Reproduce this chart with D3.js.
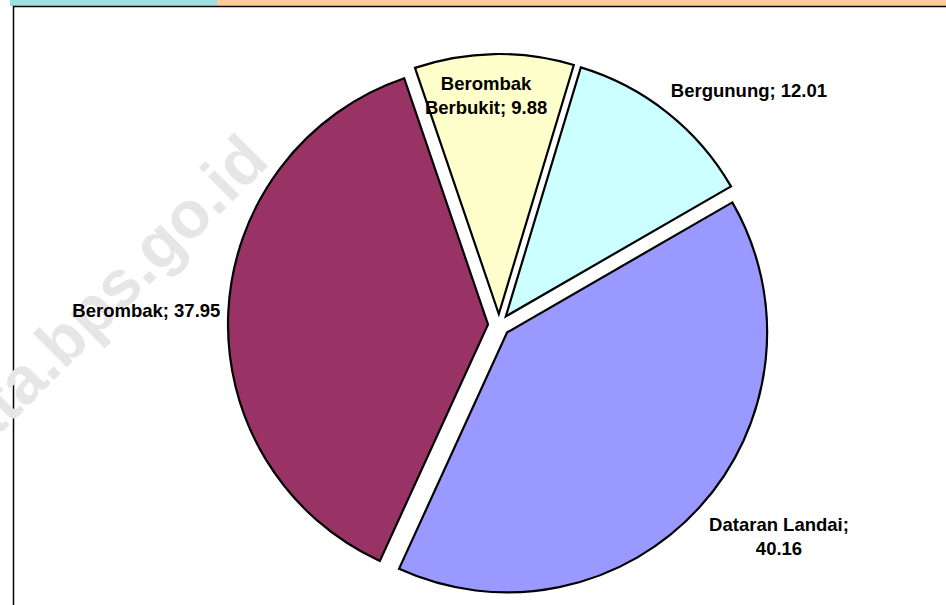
<!DOCTYPE html>
<html>
<head>
<meta charset="utf-8">
<script src="https://cdn.jsdelivr.net/npm/d3@7"></script>
<style>
    html, body { margin: 0; padding: 0; background: #fff; }
    #chart { width: 946px; height: 605px; overflow: hidden; }
    text { font-family: "Liberation Sans", Arial, sans-serif; }
</style>
</head>
<body>
<div id="chart"></div>
<script>
// slice data, clockwise from the first slice angle
const categories = ["Dataran Landai", "Berombak", "Berombak Berbukit", "Bergunung"];
const values = [40.16, 37.95, 9.88, 12.01];
const colors = ["#9999FF", "#993366", "#FFFFCC", "#CCFFFF"];

// label placement: angle shift from the slice middle (deg), distance from centre, wrap width
const labelShift = [-5.2, -0.5, -2.2, 8.4];
const labelRadius = [351, 353, 230, 343];
const labelWrap = [150, 200, 130, 200];

const width = 946, height = 605;
const cx = 499, cy = 325;
const radius = 260;
const explode = 11;
const firstAngle = 60; // degrees, clockwise from 12 o'clock
const fontSize = 18.5, lineHeight = 24;

const rad = (deg) => deg * Math.PI / 180;

const svg = d3.select("#chart")
    .append("svg")
    .attr("width", width)
    .attr("height", height);

// header strip
svg.append("rect").attr("x", 10).attr("y", 0).attr("width", 207).attr("height", 6).attr("fill", "#A0DFE0");
svg.append("rect").attr("x", 217).attr("y", 0).attr("width", width - 217).attr("height", 6).attr("fill", "#FFCC99");

// chart frame (runs off the right and bottom)
svg.append("rect")
    .attr("x", 13.5).attr("y", 6.5)
    .attr("width", width + 20).attr("height", height + 20)
    .attr("fill", "#fff")
    .attr("stroke", "#000")
    .attr("stroke-width", 1.5);

// watermark
svg.append("text")
    .attr("transform", "translate(271,163) rotate(-45)")
    .attr("text-anchor", "end")
    .attr("font-size", 66)
    .attr("font-weight", "bold")
    .attr("fill", "#e6e6e6")
    .text("data.bps.go.id");

const pie = d3.pie()
    .sort(null)
    .value((d) => d)
    .startAngle(rad(firstAngle))
    .endAngle(rad(firstAngle + 360));

const arc = d3.arc().innerRadius(0).outerRadius(radius);

const arcs = pie(values);
const mid = (d) => (d.startAngle + d.endAngle) / 2;

const g = svg.append("g").attr("transform", `translate(${cx},${cy})`);

g.selectAll(".slice")
    .data(arcs)
    .enter()
    .append("path")
    .attr("class", "slice")
    .attr("transform", (d) => `translate(${explode * Math.sin(mid(d))},${-explode * Math.cos(mid(d))})`)
    .attr("d", arc)
    .attr("fill", (d, i) => colors[i])
    .attr("stroke", "#000")
    .attr("stroke-width", 2.2)
    .attr("stroke-linejoin", "miter");

// data labels "Name; value", wrapped like the spreadsheet does
const labels = g.selectAll(".label")
    .data(arcs)
    .enter()
    .append("text")
    .attr("class", "label")
    .attr("text-anchor", "middle")
    .attr("font-size", fontSize)
    .attr("font-weight", "bold")
    .attr("fill", "#000");

labels.each(function (d, i) {
    var t = d3.select(this);
    var words = (categories[i] + "; " + values[i].toFixed(2)).split(" ");
    var lines = [];
    var line = [];
    var probe = t.append("tspan");
    words.forEach((w) => {
        var test = line.concat([w]).join(" ");
        probe.text(test);
        if (line.length && probe.node().getComputedTextLength() > labelWrap[i]) {
            lines.push(line.join(" "));
            line = [w];
        } else {
            line.push(w);
        }
    });
    lines.push(line.join(" "));
    probe.remove();

    var a = mid(d) + rad(labelShift[i]);
    var x = labelRadius[i] * Math.sin(a);
    var y = -labelRadius[i] * Math.cos(a);
    lines.forEach((s, k) => {
        t.append("tspan")
            .attr("x", x)
            .attr("y", y + (k - (lines.length - 1) / 2) * lineHeight + fontSize * 0.35)
            .text(s);
    });
});
</script>
</body>
</html>
